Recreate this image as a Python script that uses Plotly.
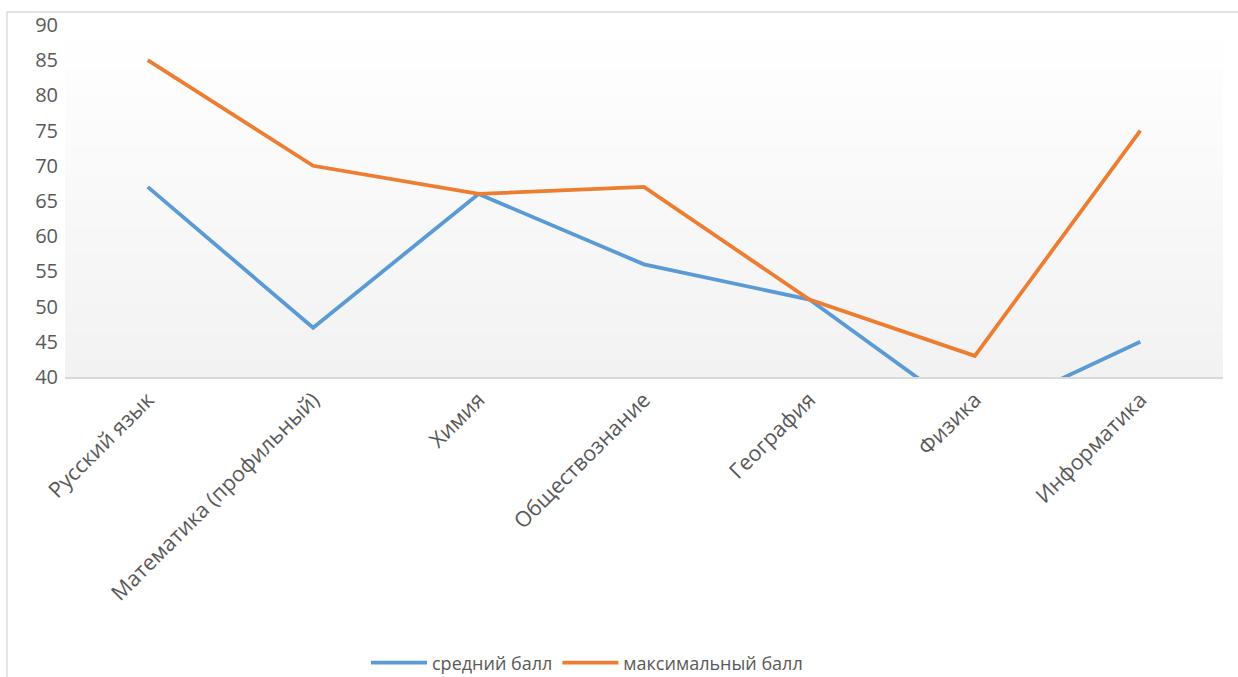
import plotly.graph_objects as go

categories = ["Русский язык", "Математика (профильный)", "Химия", "Обществознание",
              "География", "Физика", "Информатика"]
avg_score = [67, 47, 66, 56, 51, 34, 45]
max_score = [85, 70, 66, 67, 51, 43, 75]
series_names = ["средний балл", "максимальный балл"]

BLUE = "#5B9BD5"
ORANGE = "#ED7D31"
TEXT = "#595959"
FONT = "Open Sans"

W, H = 1238, 677
L, R, T, B = 65, 15, 25, 300
pw = W - L - R
ph = H - T - B

fig = go.Figure()
fig.add_trace(go.Scatter(x=categories, y=avg_score, mode="lines", name=series_names[0],
                         line=dict(color=BLUE, width=3.8)))
fig.add_trace(go.Scatter(x=categories, y=max_score, mode="lines", name=series_names[1],
                         line=dict(color=ORANGE, width=3.8)))

shapes = []
n = 40
top = (255, 255, 255)
bot = (242, 242, 242)
for i in range(n):
    f = (i + 0.5) / n
    c = tuple(round(top[k] + (bot[k] - top[k]) * f) for k in range(3))
    shapes.append(dict(type="rect", xref="x domain", yref="y domain",
                       x0=0, x1=1, y0=1 - (i + 1) / n, y1=1 - i / n + 0.002,
                       fillcolor="rgb(%d,%d,%d)" % c, line=dict(width=0), layer="below"))

# chart border
shapes.append(dict(type="rect", xref="paper", yref="paper",
                   x0=(7 - L) / pw, x1=(W + 5 - L) / pw,
                   y0=-(H + 5 - T - ph) / ph, y1=1 + (T - 12) / ph,
                   line=dict(color="#d9d9d9", width=1.3), fillcolor="rgba(0,0,0,0)",
                   layer="below"))

fig.update_layout(
    width=W, height=H,
    margin=dict(l=L, r=R, t=T, b=B, autoexpand=False),
    paper_bgcolor="white", plot_bgcolor="white",
    font=dict(family=FONT, color=TEXT, size=18),
    shapes=shapes,
    showlegend=True,
    legend=dict(orientation="h", x=(366 - L) / pw, xanchor="left",
                y=(T + ph - 663) / ph, yanchor="middle", bgcolor="rgba(0,0,0,0)",
                font=dict(size=18, color=TEXT), itemwidth=56, tracegroupgap=0),
)
fig.update_xaxes(type="category", range=[-0.5, 6.5], tickangle=-45,
                 showgrid=False, showline=True, linecolor="#d9d9d9", linewidth=1.5,
                 ticks="", tickfont=dict(size=21.5, color=TEXT), zeroline=False,
                 automargin=False, fixedrange=True)
fig.update_yaxes(range=[40, 90], dtick=5, showgrid=False, showline=False,
                 zeroline=False, ticks="", tickfont=dict(size=20, color=TEXT),
                 ticklabelstandoff=6, automargin=False, fixedrange=True)

fig.write_html("out.html", config={"displayModeBar": False},
               post_script="document.body.style.margin='0';document.body.style.overflow='hidden';")
